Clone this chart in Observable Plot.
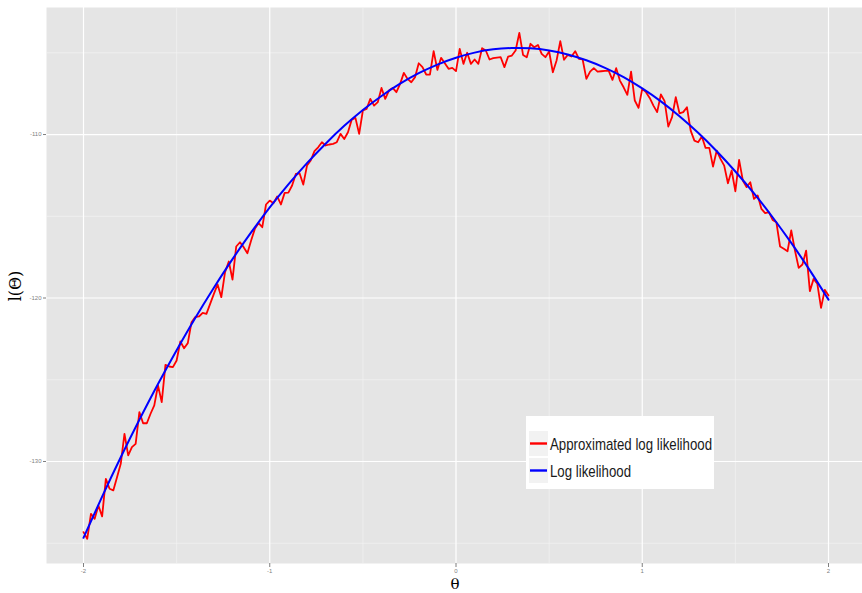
<!DOCTYPE html>
<html><head><meta charset="utf-8">
<script src="https://cdn.jsdelivr.net/npm/d3@7"></script>
<script src="https://cdn.jsdelivr.net/npm/@observablehq/plot@0.6"></script>
<style>html,body{margin:0;padding:0;background:#fff;} #chart{width:862px;height:593px;overflow:hidden;}</style>
</head><body><div id="chart"></div>
<script>
// theta grid for the approximated log likelihood (step 0.02)
const thetaFine = [
-2,-1.98,-1.96,-1.94,-1.92,-1.9,-1.88,-1.86,-1.84,-1.82,
-1.8,-1.78,-1.76,-1.74,-1.72,-1.7,-1.68,-1.66,-1.64,-1.62,
-1.6,-1.58,-1.56,-1.54,-1.52,-1.5,-1.48,-1.46,-1.44,-1.42,
-1.4,-1.38,-1.36,-1.34,-1.32,-1.3,-1.28,-1.26,-1.24,-1.22,
-1.2,-1.18,-1.16,-1.14,-1.12,-1.1,-1.08,-1.06,-1.04,-1.02,
-1,-0.98,-0.96,-0.94,-0.92,-0.9,-0.88,-0.86,-0.84,-0.82,
-0.8,-0.78,-0.76,-0.74,-0.72,-0.7,-0.68,-0.66,-0.64,-0.62,
-0.6,-0.58,-0.56,-0.54,-0.52,-0.5,-0.48,-0.46,-0.44,-0.42,
-0.4,-0.38,-0.36,-0.34,-0.32,-0.3,-0.28,-0.26,-0.24,-0.22,
-0.2,-0.18,-0.16,-0.14,-0.12,-0.1,-0.08,-0.06,-0.04,-0.02,
0,0.02,0.04,0.06,0.08,0.1,0.12,0.14,0.16,0.18,
0.2,0.22,0.24,0.26,0.28,0.3,0.32,0.34,0.36,0.38,
0.4,0.42,0.44,0.46,0.48,0.5,0.52,0.54,0.56,0.58,
0.6,0.62,0.64,0.66,0.68,0.7,0.72,0.74,0.76,0.78,
0.8,0.82,0.84,0.86,0.88,0.9,0.92,0.94,0.96,0.98,
1,1.02,1.04,1.06,1.08,1.1,1.12,1.14,1.16,1.18,
1.2,1.22,1.24,1.26,1.28,1.3,1.32,1.34,1.36,1.38,
1.4,1.42,1.44,1.46,1.48,1.5,1.52,1.54,1.56,1.58,
1.6,1.62,1.64,1.66,1.68,1.7,1.72,1.74,1.76,1.78,
1.8,1.82,1.84,1.86,1.88,1.9,1.92,1.94,1.96,1.98,
2];
const approxLL = [
-134.32,-134.73,-133.20,-133.51,-132.69,-133.36,-131.06,-131.67,-131.77,-130.96,
-130.14,-128.31,-129.63,-129.12,-128.92,-126.98,-127.66,-127.66,-127.08,-126.57,
-125.35,-126.37,-124.09,-124.19,-124.23,-123.82,-122.66,-123.07,-122.76,-121.48,
-121.17,-121.13,-120.91,-120.97,-120.36,-119.75,-119.17,-119.95,-118.42,-117.77,
-118.87,-116.85,-116.59,-116.89,-117.26,-116.48,-115.77,-115.42,-115.67,-114.28,
-114.04,-114.20,-113.79,-114.28,-113.57,-113.55,-113.12,-112.41,-112.37,-113.06,
-111.90,-111.59,-111.02,-110.78,-110.47,-110.67,-110.61,-110.57,-110.47,-109.96,
-110.27,-109.86,-109.10,-108.98,-109.96,-108.53,-108.43,-107.82,-108.23,-108.02,
-107.15,-107.82,-107.31,-107.15,-107.41,-106.90,-106.23,-106.60,-106.80,-106.49,
-105.64,-105.88,-106.33,-106.33,-104.90,-106.05,-105.31,-105.64,-105.98,-105.92,
-106.12,-104.76,-105.68,-105.00,-105.68,-105.41,-105.68,-104.72,-104.86,-105.41,
-105.33,-105.29,-105.27,-105.88,-105.23,-105.17,-104.86,-103.78,-105.13,-105.27,
-104.45,-104.66,-104.52,-105.07,-105.27,-104.92,-106.19,-105.47,-104.29,-105.43,
-105.13,-105.23,-104.90,-105.37,-105.41,-106.60,-106.15,-105.94,-106.15,-106.13,
-106.11,-106.11,-106.66,-105.94,-106.70,-107.11,-107.57,-106.15,-107.92,-108.37,
-107.21,-107.41,-107.76,-108.23,-108.63,-107.55,-107.96,-109.51,-108.94,-107.72,
-108.70,-108.63,-108.33,-109.76,-110.37,-110.47,-110.12,-110.82,-110.82,-111.96,
-110.98,-111.49,-111.90,-112.98,-112.20,-113.47,-111.55,-112.81,-113.22,-112.92,
-113.94,-113.73,-114.55,-114.81,-114.75,-115.22,-115.36,-116.85,-116.99,-117.14,
-115.87,-117.10,-118.16,-117.95,-117.10,-119.58,-118.83,-119.13,-120.60,-119.50,
-119.85];
// theta grid for the exact log likelihood (step 0.1)
const thetaCoarse = [-2,-1.9,-1.8,-1.7,-1.6,-1.5,-1.4,-1.3,-1.2,-1.1,-1,-0.9,-0.8,-0.7,-0.6,-0.5,-0.4,-0.3,-0.2,-0.1,
0,0.1,0.2,0.3,0.4,0.5,0.6,0.7,0.8,0.9,1,1.1,1.2,1.3,1.4,1.5,1.6,1.7,1.8,1.9,2];
const logLL = [-134.67,-132.15,-129.74,-127.45,-125.26,-123.19,-121.22,-119.37,-117.62,-115.99,
-114.46,-113.05,-111.75,-110.56,-109.47,-108.50,-107.64,-106.89,-106.25,-105.72,
-105.30,-104.99,-104.79,-104.71,-104.73,-104.86,-105.10,-105.46,-105.92,-106.49,
-107.18,-107.97,-108.88,-109.89,-111.02,-112.26,-113.60,-115.06,-116.63,-118.31,-120.10];

const xTicks = [-2,-1,0,1,2];
const xMinor = [-1.5,-0.5,0.5,1.5];
const yTicks = [-130,-120,-110];
const yMinor = [-135,-125,-115,-105];
const seriesNames = ["Approximated log likelihood","Log likelihood"];
const seriesColors = ["#FF0000","#0000FF"];
const xTitle = "θ";
const yTitle = "l(Θ)";

const redData = thetaFine.map((t,i)=>({theta:t, ll:approxLL[i]}));
const blueData = thetaCoarse.map((t,i)=>({theta:t, ll:logLL[i]}));

const plot = Plot.plot({
  width: 862, height: 593,
  marginLeft: 46, marginRight: 0, marginTop: 7, marginBottom: 30,
  x: {domain: [-2.2, 2.2], range: [45.75, 865.25]},
  y: {domain: [-136.24, -102.23], range: [563, 7]},
  style: {background: "#fff", fontFamily: "Liberation Sans, Arial, sans-serif", overflow: "hidden"},
  marks: [
    Plot.frame({fill: "#E5E5E5", stroke: null}),
    Plot.ruleX(xMinor, {stroke: "#F2F2F2", strokeWidth: 0.7}),
    Plot.ruleY(yMinor, {stroke: "#F2F2F2", strokeWidth: 0.7}),
    Plot.ruleX(xTicks, {stroke: "#FFFFFF", strokeWidth: 1.2}),
    Plot.ruleY(yTicks, {stroke: "#FFFFFF", strokeWidth: 1.2}),
    Plot.line(redData, {x: "theta", y: "ll", stroke: seriesColors[0], strokeWidth: 1.8}),
    Plot.line(blueData, {x: "theta", y: "ll", stroke: seriesColors[1], strokeWidth: 2, curve: "natural"}),
    Plot.axisX(xTicks, {tickSize: 4, tickPadding: 1.5, fontSize: 6, stroke: "#7F7F7F", fill: "#7F7F7F", tickFormat: d => String(d), label: null}),
    Plot.axisY(yTicks, {tickSize: 3, tickPadding: 2, fontSize: 6, stroke: "#7F7F7F", fill: "#7F7F7F", tickFormat: d => String(d), label: null})
  ]
});
document.getElementById("chart").appendChild(plot);

const svg = d3.select(plot);
// axis titles
svg.append("text").attr("x", 455).attr("y", 589).attr("text-anchor", "middle")
  .attr("font-family", "DejaVu Serif, Liberation Serif, serif").attr("font-size", 15).attr("fill", "#000").text(xTitle);
svg.append("text").attr("transform", "translate(21,286) rotate(-90)").attr("text-anchor", "middle")
  .attr("font-family", "DejaVu Serif, Liberation Serif, serif").attr("font-size", 16).attr("fill", "#000").text(yTitle);

// legend
const lg = svg.append("g").attr("text-anchor", "start");
lg.append("rect").attr("x", 526).attr("y", 416).attr("width", 188).attr("height", 73).attr("fill", "#FFFFFF");
const textWidths = [162, 81];
seriesNames.forEach((name, k) => {
  const y0 = 431 + 27 * k;
  lg.append("rect").attr("x", 529).attr("y", y0).attr("width", 19).attr("height", 25).attr("fill", "#F2F2F2");
  lg.append("line").attr("x1", 530).attr("x2", 547).attr("y1", y0 + 12.5).attr("y2", y0 + 12.5)
    .attr("stroke", seriesColors[k]).attr("stroke-width", 2.4);
  lg.append("text").attr("x", 550).attr("y", y0 + 19).attr("font-size", 17).attr("text-anchor", "start")
    .attr("font-family", "Liberation Sans Narrow, Liberation Sans, Arial, sans-serif")
    .attr("fill", "#1a1a1a").attr("textLength", textWidths[k]).attr("lengthAdjust", "spacingAndGlyphs").text(name);
});
</script>
</body></html>
